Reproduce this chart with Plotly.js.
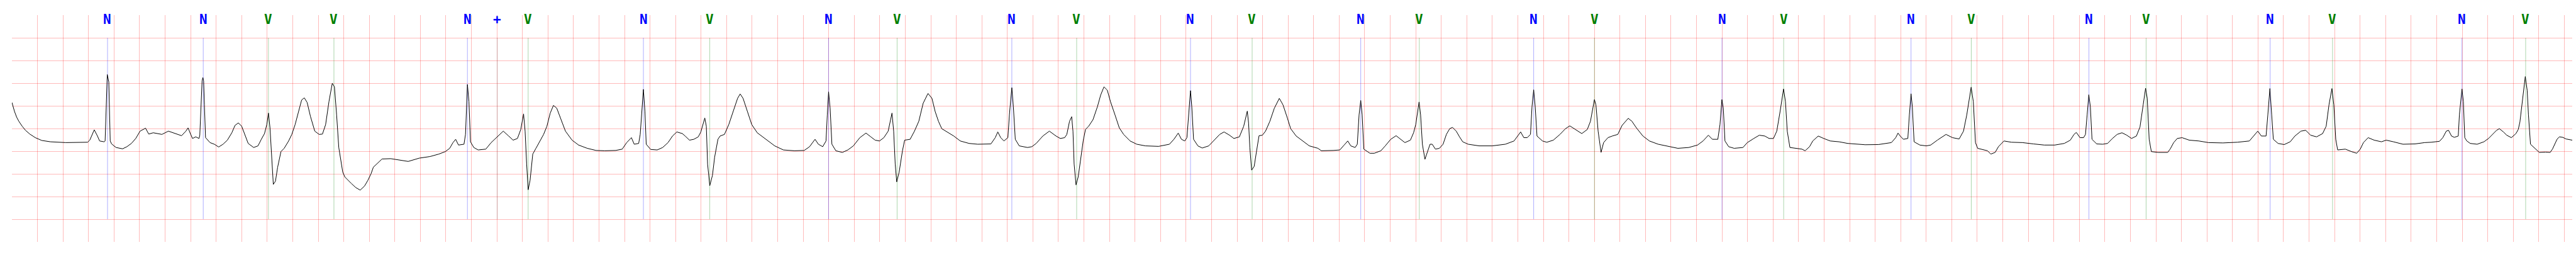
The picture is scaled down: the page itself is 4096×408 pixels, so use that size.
<!DOCTYPE html>
<html>
<head>
<meta charset="utf-8">
<script src="https://cdn.plot.ly/plotly-3.0.1.min.js"></script>
<style>html,body{margin:0;padding:0;background:#fff;}#chart{width:4096px;height:408px;}</style>
</head>
<body>
<div id="chart"></div>
<script>
const ecgTime = [
0.000,0.020,0.037,0.054,0.080,0.106,0.140,0.183,0.234,0.302,0.422,0.593,0.610,0.645,0.670,0.687,0.722,0.730,0.747,0.759,0.770,0.781,0.816,0.867,0.901,0.936,0.970,1.004,1.047,1.072,1.107,1.175,1.226,1.278,1.329,1.363,1.380,1.398,1.415,1.440,1.466,1.472,1.481,1.490,1.496,1.502,1.508,1.517,1.552,1.586,1.620,1.654,1.688,1.723,1.748,1.774,1.800,1.825,1.851,1.894,1.928,1.954,1.979,1.997,2.010,2.022,2.034,2.048,2.065,2.082,2.108,2.133,2.168,2.193,2.219,2.245,2.270,2.291,2.313,2.339,2.373,2.407,2.433,2.458,2.484,2.510,2.527,2.544,2.561,2.592,
2.609,2.660,2.695,2.729,2.763,2.789,2.814,2.832,2.866,2.900,2.968,3.037,3.105,3.191,3.276,3.345,3.396,3.430,3.456,3.477,3.499,3.542,3.554,3.569,3.581,3.593,3.619,3.653,3.713,3.755,3.807,3.850,3.892,3.927,3.961,3.987,4.009,4.021,4.033,4.045,4.060,4.081,4.106,4.132,4.166,4.192,4.218,4.243,4.269,4.303,4.337,4.389,4.440,4.508,4.577,4.645,4.731,4.782,4.817,4.854,4.876,4.911,4.923,4.948,4.960,4.970,5.005,5.056,5.099,5.141,5.176,5.210,5.253,5.275,
5.309,5.343,5.378,5.398,5.429,5.441,5.451,5.468,5.489,5.506,5.532,5.549,5.583,5.617,5.652,5.686,5.706,5.729,5.763,5.797,5.840,5.908,5.977,6.045,6.131,6.208,6.250,6.293,6.319,6.353,6.379,6.389,6.399,6.411,6.425,6.456,6.507,6.550,6.593,6.644,6.692,6.730,6.764,6.798,6.832,6.866,6.884,6.896,6.909,6.921,6.933,6.952,6.978,6.995,7.038,7.072,7.106,7.140,7.178,7.209,7.234,7.260,7.286,7.328,7.380,7.431,7.500,7.568,7.671,7.705,7.725,7.748,7.773,7.804,7.816,7.835,7.847,7.862,7.893,7.958,
7.992,8.026,8.078,8.129,8.181,8.215,8.249,8.266,8.287,8.304,8.314,8.323,8.338,8.355,8.369,8.394,8.412,8.437,8.471,8.506,8.531,8.557,8.583,8.608,8.643,8.677,8.711,8.762,8.814,8.882,8.985,9.070,9.105,9.139,9.164,9.190,9.207,9.221,9.235,9.245,9.259,9.293,9.327,9.378,9.430,9.464,9.498,9.541,9.575,9.618,9.652,9.680,9.690,9.700,9.714,9.734,9.751,9.772,9.798,9.823,9.857,9.892,9.931,9.960,9.994,10.020,10.063,10.114,10.166,10.234,10.260,10.354,10.405,10.439,10.467,10.491,10.525,10.542,10.556,10.569,10.580,10.593,10.619,10.641,
10.675,10.727,10.761,10.804,10.846,10.881,10.915,10.958,10.983,11.000,11.026,11.038,11.052,11.072,11.089,11.112,11.129,11.154,11.185,11.214,11.240,11.266,11.288,11.317,11.343,11.368,11.411,11.497,11.599,11.702,11.770,11.822,11.847,11.873,11.899,11.911,11.924,11.936,11.950,11.993,12.027,12.078,12.130,12.173,12.207,12.250,12.301,12.344,12.369,12.400,12.412,12.429,12.452,12.472,12.506,12.540,12.583,12.617,12.665,12.694,12.729,12.780,12.831,12.900,12.985,13.054,13.139,13.208,13.251,13.293,13.324,
13.367,13.384,13.399,13.410,13.423,13.452,13.495,13.564,13.598,13.649,13.692,13.735,13.769,13.803,13.829,13.855,13.882,13.897,13.911,13.932,13.974,14.026,14.051,14.086,14.111,14.154,14.197,14.248,14.317,14.385,14.522,14.625,14.727,14.761,14.779,14.796,14.821,14.856,14.868,14.881,14.891,14.905,14.950,15.001,15.035,15.087,15.155,15.206,15.258,15.292,15.318,15.352,15.369,15.386,15.403,15.446,15.480,15.506,15.540,15.566,15.609,15.668,15.754,15.840,15.925,16.007,
16.082,16.129,16.158,16.176,16.205,16.233,16.248,16.261,16.274,16.286,16.299,16.336,16.383,16.421,16.459,16.496,16.534,16.572,16.609,16.647,16.675,16.700,16.719,16.732,16.747,16.764,16.816,16.892,16.911,16.939,16.967,17.005,17.061,17.136,17.212,17.325,17.438,17.532,17.560,17.598,17.626,17.663,17.677,17.693,17.707,17.720,17.757,17.805,17.852,17.889,17.936,17.974,18.012,18.059,18.106,18.134,18.156,18.179,18.194,18.209,18.224,18.284,18.332,18.373,18.401,18.426,18.463,18.510,18.567,18.604,18.661,18.736,18.830,18.906,18.958,
18.995,19.022,19.048,19.075,19.093,19.116,19.138,19.169,19.178,19.198,19.209,19.220,19.236,19.263,19.317,19.370,19.406,19.442,19.469,19.491,19.523,19.549,19.585,19.621,19.639,19.652,19.666,19.679,19.694,19.709,19.719,19.735,19.755,19.782,19.804,19.853,19.889,19.907,19.925,19.943,19.961,19.988,20.014,20.062
];
const ecgMv = [
0.574,0.376,0.249,0.159,0.051,-0.040,-0.123,-0.202,-0.264,-0.293,-0.311,-0.303,-0.257,-0.029,-0.166,-0.275,-0.293,-0.275,1.189,1.026,-0.275,-0.340,-0.419,-0.448,-0.401,-0.329,-0.220,-0.058,0.007,-0.123,-0.094,-0.130,-0.058,-0.112,-0.159,-0.058,0.014,-0.112,-0.220,-0.184,-0.220,-0.150,0.520,1.050,1.124,1.050,0.520,-0.200,-0.311,-0.347,-0.408,-0.347,-0.257,-0.094,0.069,0.123,0.051,-0.130,-0.329,-0.419,-0.383,-0.238,-0.112,0.087,0.340,0.014,-0.600,-1.232,-1.160,-0.853,-0.509,-0.437,-0.275,-0.130,0.087,0.376,0.629,0.676,0.574,0.267,-0.058,-0.130,-0.123,0.087,0.592,0.997,0.918,0.303,-0.419,-0.961,
-1.069,-1.214,-1.304,-1.358,-1.268,-1.142,-0.997,-0.853,-0.762,-0.672,-0.665,-0.701,-0.726,-0.654,-0.618,-0.564,-0.509,-0.437,-0.311,-0.238,-0.365,-0.347,-0.130,0.972,0.592,-0.293,-0.419,-0.473,-0.455,-0.311,-0.166,-0.058,-0.166,-0.257,-0.220,-0.022,0.322,-0.058,-0.780,-1.351,-1.142,-0.564,-0.437,-0.311,-0.130,0.051,0.340,0.509,0.448,0.195,-0.058,-0.257,-0.365,-0.437,-0.484,-0.491,-0.484,-0.455,-0.311,-0.202,-0.347,-0.329,-0.130,0.863,0.376,-0.347,-0.462,-0.473,-0.419,-0.311,-0.166,-0.076,-0.112,-0.166,
-0.257,-0.238,-0.184,-0.076,0.231,0.051,-0.780,-1.261,-1.033,-0.636,-0.238,-0.166,-0.130,0.087,0.376,0.665,0.762,0.665,0.376,0.087,-0.094,-0.238,-0.383,-0.473,-0.491,-0.484,-0.401,-0.238,-0.347,-0.401,-0.275,0.303,0.809,0.448,-0.347,-0.491,-0.527,-0.473,-0.383,-0.202,-0.101,-0.184,-0.257,-0.275,-0.202,-0.058,0.195,0.340,-0.058,-0.780,-1.178,-0.961,-0.491,-0.257,-0.238,-0.058,0.159,0.556,0.773,0.665,0.376,0.159,-0.004,-0.076,-0.166,-0.275,-0.329,-0.347,-0.340,-0.202,-0.076,-0.202,-0.275,-0.202,0.303,0.900,0.484,-0.238,-0.383,-0.419,
-0.401,-0.329,-0.166,-0.058,-0.166,-0.220,-0.202,-0.130,0.159,0.260,-0.058,-0.780,-1.243,-1.069,-0.780,-0.275,-0.022,0.051,0.195,0.484,0.737,0.918,0.845,0.592,0.303,0.014,-0.130,-0.275,-0.347,-0.383,-0.394,-0.347,-0.238,-0.101,-0.238,-0.275,-0.202,0.303,0.835,0.484,-0.238,-0.383,-0.430,-0.383,-0.238,-0.130,-0.076,-0.148,-0.220,-0.184,0.051,0.383,0.123,-0.419,-0.918,-0.835,-0.527,-0.159,-0.148,-0.058,0.159,0.448,0.665,0.520,0.231,-0.004,-0.166,-0.275,-0.383,-0.437,-0.491,-0.484,-0.473,-0.365,-0.275,-0.383,-0.419,-0.347,0.303,0.618,0.303,-0.455,-0.509,-0.546,
-0.546,-0.491,-0.383,-0.238,-0.159,-0.238,-0.311,-0.257,-0.094,0.087,0.585,0.303,-0.347,-0.679,-0.527,-0.347,-0.347,-0.455,-0.437,-0.347,-0.130,-0.004,0.025,-0.058,-0.184,-0.293,-0.347,-0.383,-0.383,-0.347,-0.275,-0.076,-0.202,-0.202,-0.130,0.484,0.853,0.484,-0.166,-0.275,-0.303,-0.257,-0.130,-0.004,0.058,-0.022,-0.112,-0.022,0.159,0.639,0.520,-0.058,-0.527,-0.311,-0.202,-0.166,-0.130,0.069,0.224,0.159,0.014,-0.166,-0.275,-0.347,-0.401,-0.437,-0.419,-0.365,-0.275,-0.148,-0.238,
-0.238,0.087,0.639,0.448,-0.275,-0.401,-0.437,-0.419,-0.311,-0.220,-0.148,-0.166,-0.220,-0.220,-0.058,0.376,0.871,0.592,-0.058,-0.419,-0.437,-0.455,-0.491,-0.401,-0.275,-0.166,-0.220,-0.275,-0.293,-0.329,-0.358,-0.354,-0.311,-0.202,-0.101,-0.166,-0.238,-0.220,0.303,0.766,0.484,-0.293,-0.365,-0.383,-0.365,-0.257,-0.130,-0.202,-0.231,-0.058,0.303,0.910,0.592,-0.311,-0.437,-0.473,-0.491,-0.564,-0.527,-0.401,-0.275,-0.303,-0.311,-0.340,-0.365,-0.365,
-0.329,-0.257,-0.130,-0.087,-0.202,-0.202,-0.130,0.303,0.744,0.484,-0.238,-0.340,-0.347,-0.329,-0.220,-0.130,-0.094,-0.148,-0.220,-0.166,0.033,0.520,0.889,0.665,-0.238,-0.509,-0.527,-0.527,-0.455,-0.311,-0.220,-0.202,-0.257,-0.275,-0.311,-0.318,-0.303,-0.275,-0.184,-0.058,-0.166,-0.166,0.303,0.881,0.303,-0.238,-0.329,-0.354,-0.293,-0.166,-0.058,-0.040,-0.148,-0.184,-0.112,0.051,0.520,0.881,0.520,-0.238,-0.473,-0.455,-0.509,-0.546,-0.455,-0.311,-0.202,-0.257,-0.293,-0.257,-0.293,-0.347,-0.340,-0.311,-0.303,
-0.293,-0.282,-0.202,-0.058,-0.040,-0.166,-0.195,-0.166,0.303,0.871,0.592,-0.202,-0.275,-0.329,-0.347,-0.293,-0.220,-0.112,-0.040,-0.004,-0.076,-0.148,-0.202,-0.112,-0.022,0.141,0.484,0.809,1.145,0.845,0.303,-0.347,-0.401,-0.473,-0.527,-0.520,-0.527,-0.455,-0.347,-0.238,-0.184,-0.195,-0.231,-0.257
];

// Beat annotations: sample times (s) and symbols
const annTime = [0.749,1.499,2.010,2.523,3.569,3.803,4.045,4.948,5.468,6.399,6.936,7.835,8.343,9.235,9.718,10.569,11.028,11.924,12.400,13.400,13.883,14.881,15.353,16.275,16.723,17.695,18.184,19.198,19.697];
const annSymbol = ["N","N","V","V","N","+","V","N","V","N","V","N","V","N","V","N","V","N","V","N","V","N","V","N","V","N","V","N","V"];

// Axis grid (0.2 s, 0.5 mV)
const gridTimeStep = 0.2;
const gridMvTicks = [-2.5,-2.0,-1.5,-1.0,-0.5,0.0,0.5,1.0,1.5,2.0];
const timeRange = [0, 20.062];
const mvRange = [-2.5, 2.5];

const symbolColor = {"N":"#0000ff","V":"#008000","+":"#0000ff"};
const lineColor = {"N":"rgba(0,0,255,0.55)","V":"rgba(0,128,0,0.55)","+":"rgba(110,110,110,0.6)"};

const shapes = annTime.map((t,i)=>({
  type:"line", xref:"x", yref:"y", x0:t, x1:t, y0:-2.0, y1:2.0,
  line:{color:lineColor[annSymbol[i]], width:0.6}, layer:"between"
}));
const annotations = annTime.map((t,i)=>({
  x:t, y:2.4, xref:"x", yref:"y", text:annSymbol[i], showarrow:false,
  xanchor:"center", yanchor:"middle",
  font:{family:"DejaVu Sans Mono", size:21, color:symbolColor[annSymbol[i]], weight:700}
}));

const trace = {
  x: ecgTime, y: ecgMv, type:"scatter", mode:"lines",
  line:{color:"#000000", width:1}, hoverinfo:"skip"
};

const gridColor = "rgba(255,0,0,0.27)";
const layout = {
  width:4096, height:408,
  margin:{l:18.5, r:6, t:24, b:24, pad:0},
  paper_bgcolor:"#ffffff", plot_bgcolor:"#ffffff",
  showlegend:false,
  xaxis:{range:timeRange, tick0:0, dtick:gridTimeStep, showgrid:true, gridcolor:gridColor, gridwidth:1,
         zeroline:false, showline:false, showticklabels:false, ticks:"", fixedrange:true},
  yaxis:{range:mvRange, tickmode:"array", tickvals:gridMvTicks, showgrid:true, gridcolor:gridColor, gridwidth:1,
         zeroline:false, showline:false, showticklabels:false, ticks:"", fixedrange:true},
  shapes: shapes,
  annotations: annotations
};

Plotly.newPlot("chart", [trace], layout, {displayModeBar:false, staticPlot:true});
</script>
</body>
</html>
